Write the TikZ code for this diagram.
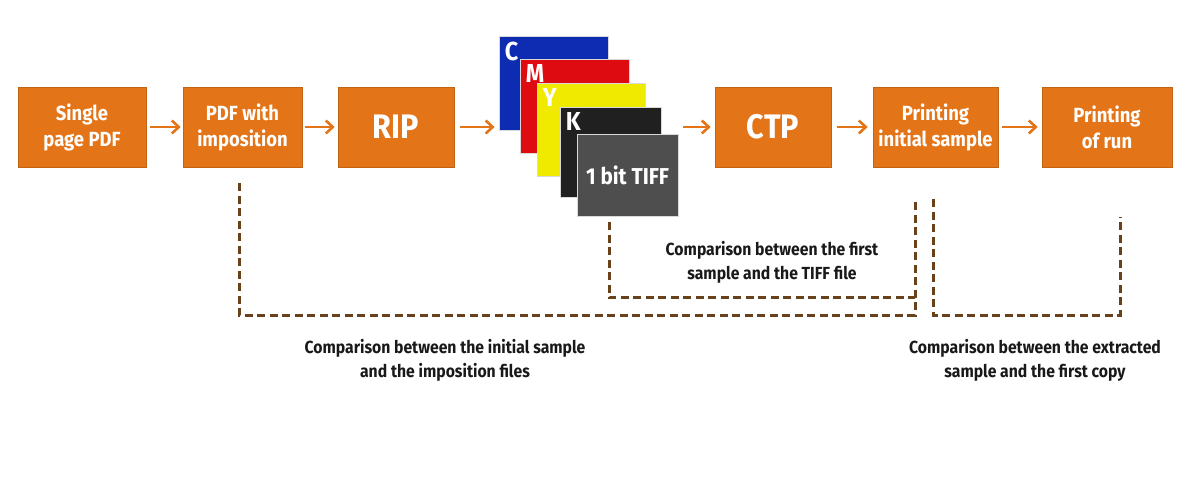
\documentclass[tikz,border=0pt]{standalone}
\usepackage{fontspec}
\setmainfont{Fira Sans}[FakeStretch=0.9]
\usetikzlibrary{arrows.meta, shadows}
\definecolor{stepOrange}{RGB}{228,116,24}
\definecolor{cmpBrown}{RGB}{105,66,28}
\definecolor{sheetC}{RGB}{14,44,178}
\definecolor{sheetM}{RGB}{222,12,16}
\definecolor{sheetY}{RGB}{240,234,0}
\definecolor{sheetK}{RGB}{32,32,32}
\definecolor{sheetT}{RGB}{78,78,78}
\tikzset{
    stepbox/.style = {fill=stepOrange, draw=stepOrange!85!black, line width=0.6pt,
        minimum height=80pt, text=white, align=center, inner sep=2pt,
        font=\bfseries\fontsize{20.5}{26}\selectfont, drop shadow={opacity=0.15, shadow xshift=1pt, shadow yshift=-1pt}},
    bigtext/.style = {font=\bfseries\fontsize{34}{36}\selectfont},
    sheet/.style = {draw=white!70!gray, line width=0.8pt, inner sep=0pt},
    sheetletter/.style = {text=white, inner sep=0pt, anchor=north west, font=\bfseries\fontsize{26}{26}\selectfont},
    flow/.style = {stepOrange, line width=2.6pt, -{Straight Barb[length=7pt, width=13pt, line width=2.6pt]}},
    cmp/.style = {cmpBrown, line width=3pt, dash pattern=on 8pt off 4.5pt},
    cmptext/.style = {align=center, text=black!90, font=\bfseries\fontsize{17.5}{24}\selectfont}
}

\begin{document}
\begin{tikzpicture}[x=1pt, y=1pt]
    \useasboundingbox (0,0) rectangle (1200,488);
    % process steps
    \node[stepbox, minimum width=128pt] (single) at (82,361) {Single\\page PDF};
    \node[stepbox, minimum width=119pt] (impos) at (242.5,361) {PDF with\\imposition};
    \node[stepbox, bigtext, minimum width=116pt] (rip) at (396,361) {RIP};
    \node[stepbox, bigtext, minimum width=116pt] (ctp) at (773,361) {CTP};
    \node[stepbox, minimum width=125pt] (sample) at (935.5,361) {Printing\\initial sample};
    \node[stepbox, minimum width=130pt] (run) at (1107,361) {Printing\\of run};

    % separated plates
    \foreach \nm/\cx/\cy/\w/\h/\col/\ltr in {cyan/553.5/405/109/94/sheetC/C, magenta/574.5/382/109/94/sheetM/M,
            yellow/591/358.5/108/93/sheetY/Y, black/610.5/336/101/90/sheetK/K}{
        \node[sheet, fill=\col, minimum width=\w pt, minimum height=\h pt] (\nm) at (\cx,\cy) {};
        \node[sheetletter] (\nm-l) at ([xshift=6pt, yshift=-6pt]\nm.north west) {\ltr};
    }
    \node[sheet, fill=sheetT, minimum width=101pt, minimum height=82pt, text=white,
        font=\bfseries\fontsize{23}{23}\selectfont] (tiff) at (627.5,313) {1 bit TIFF};

    \draw[flow] ([xshift=4pt]single.east) -- ([xshift=-2pt]impos.west);
    \draw[flow] ([xshift=3pt]impos.east) -- ([xshift=-3pt]rip.west);
    \draw[flow] ([xshift=6pt]rip.east) -- ([xshift=-4pt]rip.east -| cyan.west);
    \draw[flow] ([xshift=5pt]tiff.east |- ctp.west) -- ([xshift=-4pt]ctp.west);
    \draw[flow] ([xshift=6pt]ctp.east) -- ([xshift=-5pt]sample.west);
    \draw[flow] ([xshift=4pt]sample.east) -- ([xshift=-4pt]run.west);

    % comparisons
    \coordinate (a1) at ([xshift=-3.5pt, yshift=-16pt]impos.south);
    \coordinate (a2) at ([xshift=-20.5pt, yshift=-32pt]sample.south);
    \coordinate (b1) at ([xshift=-18.5pt, yshift=-6pt]tiff.south);
    \coordinate (c1) at ([xshift=-2.5pt, yshift=-32pt]sample.south);
    \coordinate (c2) at ([xshift=13pt, yshift=-50pt]run.south);
    \draw[cmp] (a1) -- (a1 |- 0,173) -| (a2);
    \draw[cmp] (b1) -- (b1 |- 0,190) -- (a2 |- 0,190);
    \draw[cmp] (c1) -- (c1 |- 0,173) -| (c2);

    \node[cmptext] (cmp-tiff) at (772,226) {Comparison between the first\\sample and the TIFF file};
    \node[cmptext] (cmp-impos) at (445,128) {Comparison between the initial sample\\and the imposition files};
    \node[cmptext] (cmp-run) at (1035,128) {Comparison between the extracted\\sample and the first copy};
\end{tikzpicture}
\end{document}
